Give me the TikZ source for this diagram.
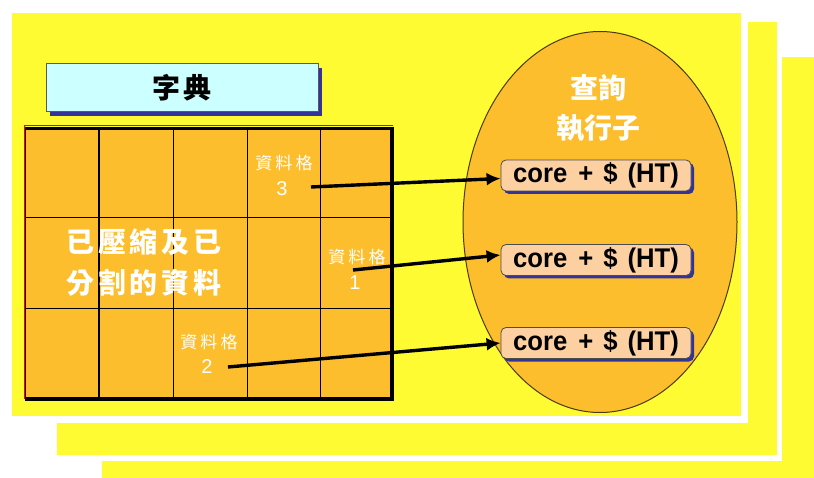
\documentclass[tikz,border=0pt]{standalone}
\usepackage{fontspec}
\setmainfont{Liberation Sans}
\newfontfamily\cjk{Noto Sans CJK TC}
\newfontfamily\cjkwide[LetterSpace=14]{Noto Sans CJK TC}
\newfontfamily\cjkdict[LetterSpace=8]{Noto Sans CJK TC}
\newfontfamily\cjklab[LetterSpace=18]{Noto Sans CJK TC}
\newfontfamily\narrowsans[FakeStretch=0.95]{Liberation Sans}
\usetikzlibrary{shapes.geometric,arrows.meta,shadows}
\definecolor{panel}{HTML}{FFFB33}
\definecolor{orng}{HTML}{FCBE2C}
\definecolor{cyanbox}{HTML}{CCFFFF}
\definecolor{peach}{HTML}{FDD0A2}
\definecolor{shblue}{HTML}{333399}
\definecolor{ellline}{HTML}{4A3A10}
\newcommand{\coretext}{core\hspace{11pt}+\hspace{10pt}\$\hspace{10pt}(HT)}
\begin{document}
\begin{tikzpicture}[x=1pt,y=-1pt,
  bshadow/.style={drop shadow={shadow xshift=3pt,shadow yshift=-3pt,fill=shblue,opacity=1,shadow scale=1}},
  corebox/.style={draw=black!70,line width=0.8pt,fill=peach,rounded corners=5pt,
    minimum width=190pt,minimum height=31pt,inner sep=0pt,bshadow,
    font=\narrowsans\fontsize{27}{30}\selectfont\bfseries},
  labtxt/.style={text=white,inner sep=0pt,font=\cjklab\fontsize{17}{18}\selectfont},
  labnum/.style={text=white,inner sep=0pt,font=\fontsize{20}{22}\selectfont},
  bigtxt/.style={text=white,inner sep=0pt,font=\cjkwide\bfseries\fontsize{28}{30}\selectfont},
  arr/.style={line width=3.4pt,-{Latex[length=14pt,width=13pt]}},
  thin/.style={line width=0.9pt}]
\useasboundingbox (0,0) rectangle (814,478);
\fill[white] (0,0) rectangle (814,478);
% stacked panels
\fill[panel] (102,57) rectangle (814,478);
\fill[white] (51,16) rectangle (782,461);
\fill[panel] (57,22) rectangle (777,455);
\fill[white] (6,7) rectangle (748,423);
\fill[panel] (12,13) rectangle (741,416);
% dictionary box
\node[draw=black!65,line width=1pt,fill=cyanbox,minimum width=272pt,minimum height=48pt,
  inner sep=0pt,drop shadow={shadow xshift=4pt,shadow yshift=-4pt,fill=shblue,opacity=1,shadow scale=1},
  font=\cjkdict\bfseries\fontsize{28}{30}\selectfont] (dict) at (182,88) {字典};
% grid
\fill[orng] (25,127) rectangle (393,398);
\foreach \xx in {173,247,320} \draw[thin] (\xx,127) -- (\xx,398);
\draw[line width=2.5pt] (99,127) -- (99,398);
\foreach \yy in {217,308} \draw[thin] (25,\yy) -- (393,\yy);
\draw[red,line width=1.2pt] (24.5,399) -- (24.5,125.5) -- (393,125.5);
\draw[line width=3pt] (25,128.5) -- (393,128.5);
\draw[line width=1pt] (25.5,127) -- (25.5,398);
\draw[line width=4pt] (391.5,127) -- (391.5,399) -- (25,399);
% grid texts
\node[bigtxt] (d1) at (144,242) {已壓縮及已};
\node[bigtxt] (d2) at (144,283) {分割的資料};
\node[labtxt] (c3t) at (284,163) {資料格};
\node[labnum] (c3n) at (282,189) {3};
\node[labtxt] (c1t) at (357,257) {資料格};
\node[labnum] (c1n) at (355,283) {1};
\node[labtxt] (c2t) at (209,342) {資料格};
\node[labnum] (c2n) at (207,367) {2};
% executor ellipse
\node[ellipse,draw=ellline,line width=1pt,fill=orng,minimum width=274pt,minimum height=381pt,inner sep=0pt] (exec) at (600,222) {};
\node[text=white,inner sep=0pt,font=\cjk\bfseries\fontsize{28}{32}\selectfont] (q1) at (598,88) {查詢};
\node[text=white,inner sep=0pt,font=\cjk\bfseries\fontsize{28}{32}\selectfont] (q2) at (598,128) {執行子};
\node[corebox] (b1) at (596,175.5) {\coretext};
\node[corebox] (b2) at (596,260) {\coretext};
\node[corebox] (b3) at (596,343) {\coretext};
% arrows
\coordinate (s3) at (311,187);
\coordinate (s1) at (353,270);
\coordinate (s2) at (228,367);
\draw[arr] (s3) -- ([yshift=-3pt]b1.west);
\draw[arr] (s1) -- ([yshift=5pt]b2.west);
\draw[arr] (s2) -- (b3.west);
\end{tikzpicture}
\end{document}
